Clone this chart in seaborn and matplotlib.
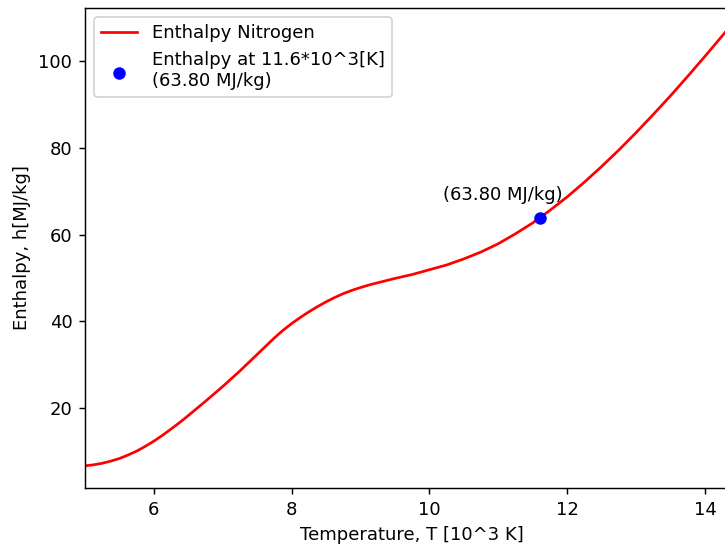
import numpy as np
import pandas as pd
from matplotlib import pyplot as plt
import seaborn as sns

# temperature in 10^3 K, enthalpy in MJ/kg
temp = [5.0, 5.125, 5.25, 5.375, 5.5, 5.625, 5.75, 5.875, 6.0, 6.125, 6.25, 6.375,
        6.5, 6.625, 6.75, 6.875, 7.0, 7.125, 7.25, 7.375, 7.5, 7.625, 7.75, 7.875,
        8.0, 8.125, 8.25, 8.375, 8.5, 8.625, 8.75, 8.875, 9.0, 9.125, 9.25, 9.375,
        9.5, 9.625, 9.75, 10.0, 10.25, 10.5, 10.75, 11.0, 11.25, 11.5, 11.75,
        12.0, 12.25, 12.5, 12.75, 13.0, 13.25, 13.5, 13.75, 14.0, 14.25, 14.5]
enthalpy = [6.7, 6.95, 7.3, 7.8, 8.4, 9.2, 10.1, 11.2, 12.4, 13.75, 15.2, 16.7,
            18.3, 19.95, 21.6, 23.3, 25.0, 26.8, 28.6, 30.5, 32.4, 34.3, 36.2, 37.95,
            39.5, 40.9, 42.2, 43.4, 44.5, 45.5, 46.4, 47.15, 47.8, 48.4, 48.9, 49.4,
            49.9, 50.35, 50.8, 51.9, 53.0, 54.4, 56.0, 57.9, 60.2, 62.7, 65.6,
            68.7, 72.1, 75.7, 79.5, 83.5, 87.7, 92.0, 96.5, 101.1, 105.8, 110.5]

point_T = [11.6]
point_h = [63.80]

df = pd.DataFrame({'T': temp, 'h': enthalpy})
pt = pd.DataFrame({'T': point_T, 'h': point_h})

fig = plt.figure(figsize=(725 / 130, 546 / 130), dpi=130)
ax = fig.add_axes([0.1172, 0.1062, 0.9028, 0.8791])

sns.lineplot(x='T', y='h', data=df, color='red', ax=ax, label='Enthalpy Nitrogen')
sns.scatterplot(x='T', y='h', data=pt, color='blue', s=48, linewidth=0, ax=ax,
                label='Enthalpy at 11.6*10^3[K]\n(63.80 MJ/kg)', zorder=3)

ax.annotate('(63.80 MJ/kg)', (point_T[0], point_h[0]), textcoords='offset points',
            xytext=(-20.5, 10), ha='center', fontsize=10)

ax.set_xlim(5, 14.5)
ax.set_ylim(1.6, 112.2)
ax.set_xlabel('Temperature, T [10^3 K]')
ax.set_ylabel('Enthalpy, h[MJ/kg]')
ax.set_title('Enthalpy of Hydrogen and Nitrogen against Temperature at pressure p', pad=6.5)
ax.legend(loc='upper left')

plt.savefig('out.png', dpi=130)
